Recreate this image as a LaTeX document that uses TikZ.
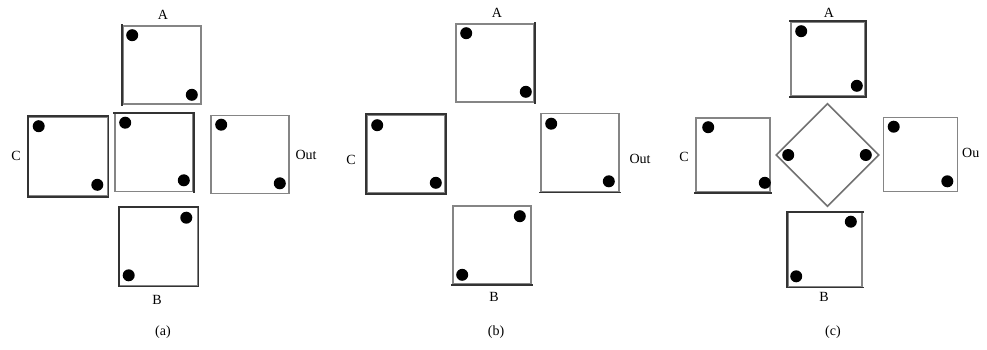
\documentclass[tikz,border=0pt]{standalone}
\usepackage{fontspec}
\setmainfont{Liberation Serif}
\usetikzlibrary{shapes.geometric}
\definecolor{darkline}{gray}{0.2}
\definecolor{lightline}{gray}{0.52}
\tikzset{
  boxa/.style={rectangle, draw=lightline, line width=1.6pt, minimum size=78pt, inner sep=0pt},
  boxc/.style={boxa, minimum size=74pt},
  dk/.style={draw=darkline, line width=1.6pt, line cap=rect},
  dot/.style={circle, fill=black, minimum size=12pt, inner sep=0pt},
  lab/.style={font=\fontsize{14}{16}\selectfont, inner sep=0pt, text=black},
  dia/.style={diamond, draw=lightline!85!black, line width=1.6pt, minimum width=103pt, minimum height=103pt, aspect=1, inner sep=0pt}
}
\begin{document}
\begin{tikzpicture}[x=1pt,y=-1pt]
\useasboundingbox (0,0) rectangle (987,349);
% ---------------- panel (a) ----------------
\node[boxa] (aA) at (162,65) {};
\node[boxa] (aM) at (154,152.5) {};
\node[boxa, minimum size=79pt] (aC) at (68,156.5) {};
\node[boxa] (aO) at (250,154.5) {};
\node[boxa] (aB) at (158.5,246.5) {};
\draw[dk] (aA.north west) -- (aA.south west);
\draw[dk] (aM.north west) -- (aM.north east) -- (aM.south east);
\draw[dk] (aC.north west) rectangle (aC.south east);
\draw[dk] (aB.north west) rectangle (aB.south east);
\node[dot] (aAd1) at ([shift={(10,10)}]aA.north west) {};
\node[dot] (aAd2) at ([shift={(-10,-10)}]aA.south east) {};
\node[dot] (aMd1) at ([shift={(11,10)}]aM.north west) {};
\node[dot] (aMd2) at ([shift={(-10,-12)}]aM.south east) {};
\node[dot] (aCd1) at ([shift={(11,10)}]aC.north west) {};
\node[dot] (aCd2) at ([shift={(-11,-12)}]aC.south east) {};
\node[dot] (aOd1) at ([shift={(11,10)}]aO.north west) {};
\node[dot] (aOd2) at ([shift={(-10,-11)}]aO.south east) {};
\node[dot] (aBd1) at ([shift={(-12,11)}]aB.north east) {};
\node[dot] (aBd2) at ([shift={(10,-11)}]aB.south west) {};
\node[lab] (aAl) at (163,15) {A};
\node[lab] (aCl) at (16,156) {C};
\node[lab] (aOl) at (306,155) {Out};
\node[lab] (aBl) at (157,300) {B};
\node[lab] (acap) at (163,332) {(a)};
% ---------------- panel (b) ----------------
\node[boxa] (bA) at (495,63) {};
\node[boxa] (bC) at (406,154) {};
\node[boxa] (bO) at (580,152.5) {};
\node[boxa] (bB) at (492,245) {};
\draw[dk] (bA.north east) -- (bA.south east);
\draw[dk] (bC.north west) rectangle (bC.south east);
\draw[dk] (bO.south west) -- (bO.south east);
\draw[dk] (bB.south west) -- (bB.south east);
\node[dot] (bAd1) at ([shift={(11,10)}]bA.north west) {};
\node[dot] (bAd2) at ([shift={(-9,-11)}]bA.south east) {};
\node[dot] (bCd1) at ([shift={(11,11)}]bC.north west) {};
\node[dot] (bCd2) at ([shift={(-10,-11)}]bC.south east) {};
\node[dot] (bOd1) at ([shift={(11,11)}]bO.north west) {};
\node[dot] (bOd2) at ([shift={(-11,-11)}]bO.south east) {};
\node[dot] (bBd1) at ([shift={(-12,11)}]bB.north east) {};
\node[dot] (bBd2) at ([shift={(10,-10)}]bB.south west) {};
\node[lab] (bAl) at (497,13) {A};
\node[lab] (bCl) at (351,160) {C};
\node[lab] (bOl) at (640,159) {Out};
\node[lab] (bBl) at (494,297) {B};
\node[lab] (bcap) at (496,332) {(b)};
% ---------------- panel (c) ----------------
\node[boxc] (cA) at (828,59) {};
\node[boxc] (cC) at (733,155) {};
\node[boxc] (cO) at (920.5,154.5) {};
\node[boxc] (cB) at (825,249.5) {};
\node[dia] (cD) at (827.5,155) {};
\draw[dk] (cA.north west) -- (cA.north east) -- (cA.south east) -- (cA.south west);
\draw[dk] (cC.south west) -- (cC.south east);
\draw[dk] (cB.north east) -- (cB.north west) -- (cB.south west) -- (cB.south east);
\node[dot] (cAd1) at ([shift={(11,10)}]cA.north west) {};
\node[dot] (cAd2) at ([shift={(-9,-11)}]cA.south east) {};
\node[dot] (cCd1) at ([shift={(13,10)}]cC.north west) {};
\node[dot] (cCd2) at ([shift={(-6,-10)}]cC.south east) {};
\node[dot] (cOd1) at ([shift={(11,10)}]cO.north west) {};
\node[dot] (cOd2) at ([shift={(-11,-11)}]cO.south east) {};
\node[dot] (cBd1) at ([shift={(-12,10)}]cB.north east) {};
\node[dot] (cBd2) at ([shift={(9,-11)}]cB.south west) {};
\node[dot] (cDd1) at ([shift={(13,0)}]cD.west) {};
\node[dot] (cDd2) at ([shift={(-14,0)}]cD.east) {};
\node[lab] (cAl) at (829,13) {A};
\node[lab] (cCl) at (684,157) {C};
\node[lab, anchor=west] (cOl) at (962,153) {Ou};
\node[lab] (cBl) at (824,297) {B};
\node[lab] (ccap) at (833,332) {(c)};
\end{tikzpicture}
\end{document}
